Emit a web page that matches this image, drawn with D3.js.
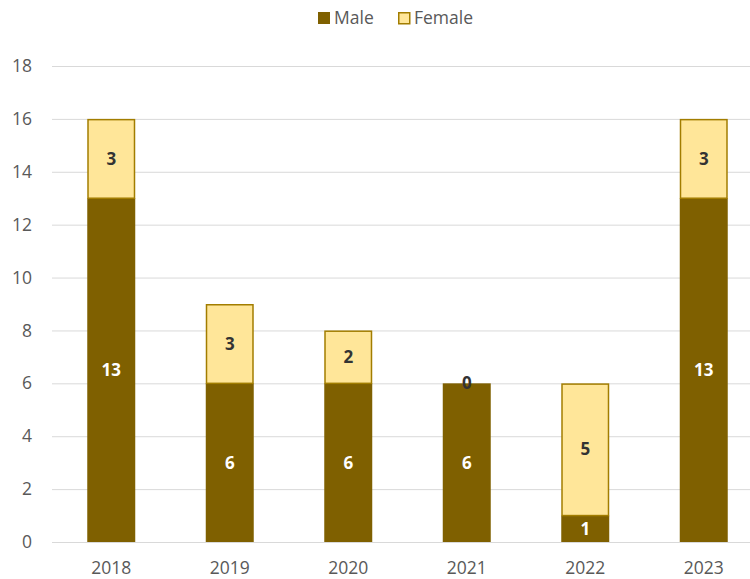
<!DOCTYPE html>
<html lang="en">
<head>
<meta charset="UTF-8">
<title>Male / Female by year</title>
<script src="https://d3js.org/d3.v7.min.js"></script>
<style>
  body { margin: 0; background: #fff; }
  svg { font-family: "Open Sans", "Noto Sans", sans-serif; }
</style>
</head>
<body>
<svg id="chart" width="750" height="579"></svg>
<script>
var years = ["2018", "2019", "2020", "2021", "2022", "2023"];
var male = [13, 6, 6, 6, 1, 13];
var female = [3, 3, 2, 0, 5, 3];
var yTicks = [0, 2, 4, 6, 8, 10, 12, 14, 16, 18];

var svg = d3.select("#chart");
var fontSize = "17.5px";

// plot area (note: "top" is a reserved window global, so use plotTop)
var plotLeft = 52, plotRight = 763, plotTop = 66, plotBottom = 542;

var x = d3.scaleBand().domain(years).range([plotLeft, plotRight]).paddingInner(0.595).paddingOuter(0.2975);
var y = d3.scaleLinear().domain([0, 18]).range([plotBottom, plotTop]);

// gridlines
svg.append("g")
  .selectAll("line")
  .data(yTicks)
  .enter()
  .append("line")
  .attr("x1", plotLeft)
  .attr("x2", 750)
  .attr("y1", function(d) { return y(d) + 0.5; })
  .attr("y2", function(d) { return y(d) + 0.5; })
  .attr("stroke", "#d9d9d9")
  .attr("stroke-width", 1);

// y axis labels
var yAxis = svg.append("g")
  .attr("transform", "translate(32,0)")
  .call(d3.axisLeft(y).tickValues(yTicks).tickSize(0).tickPadding(0));
yAxis.select(".domain").remove();
yAxis.selectAll("text")
  .attr("fill", "#595959")
  .attr("font-size", fontSize)
  .attr("font-family", "\"Open Sans\", \"Noto Sans\", sans-serif");

// x axis labels
var xAxis = svg.append("g")
  .attr("transform", "translate(0," + plotBottom + ")")
  .call(d3.axisBottom(x).tickSize(0).tickPadding(20));
xAxis.select(".domain").remove();
xAxis.selectAll("text")
  .attr("fill", "#595959")
  .attr("font-size", fontSize)
  .attr("font-family", "\"Open Sans\", \"Noto Sans\", sans-serif");

var data = years.map(function(yr, i) {
  return { year: yr, male: male[i], female: female[i] };
});

// male bars
svg.selectAll(".male")
  .data(data)
  .enter()
  .append("rect")
  .attr("class", "male")
  .attr("x", function(d) { return x(d.year); })
  .attr("y", function(d) { return y(d.male); })
  .attr("width", x.bandwidth())
  .attr("height", function(d) { return y(0) - y(d.male); })
  .attr("fill", "#7f6000");

// female bars
svg.selectAll(".female")
  .data(data.filter(function(d) { return d.female > 0; }))
  .enter()
  .append("rect")
  .attr("class", "female")
  .attr("x", function(d) { return x(d.year) + 0.75; })
  .attr("y", function(d) { return y(d.male + d.female) + 0.75; })
  .attr("width", x.bandwidth() - 1.5)
  .attr("height", function(d) { return y(d.male) - y(d.male + d.female) - 0.75; })
  .attr("fill", "#ffe699")
  .attr("stroke", "#a27d00")
  .attr("stroke-width", 1.5);

// labels
svg.selectAll(".mlabel")
  .data(data)
  .enter()
  .append("text")
  .attr("x", function(d) { return x(d.year) + x.bandwidth() / 2; })
  .attr("y", function(d) { return y(d.male / 2); })
  .attr("dy", "0.35em")
  .attr("text-anchor", "middle")
  .attr("font-size", "17px")
  .attr("font-weight", "bold")
  .attr("fill", "#ffffff")
  .text(function(d) { return d.male; });

svg.selectAll(".flabel")
  .data(data)
  .enter()
  .append("text")
  .attr("x", function(d) { return x(d.year) + x.bandwidth() / 2; })
  .attr("y", function(d) { return y(d.male + d.female / 2); })
  .attr("dy", "0.35em")
  .attr("text-anchor", "middle")
  .attr("font-size", "17px")
  .attr("font-weight", "bold")
  .attr("fill", "#333333")
  .text(function(d) { return d.female; });

// legend
var legend = svg.append("g");
legend.append("rect")
  .attr("x", 318).attr("y", 12).attr("width", 12).attr("height", 12)
  .attr("fill", "#7f6000");
legend.append("text")
  .attr("x", 334).attr("y", 18).attr("dy", "0.35em")
  .attr("font-size", fontSize).attr("fill", "#595959")
  .text("Male");
legend.append("rect")
  .attr("x", 398.75).attr("y", 12.75).attr("width", 11).attr("height", 11)
  .attr("fill", "#ffe699").attr("stroke", "#a27d00").attr("stroke-width", 1.5);
legend.append("text")
  .attr("x", 414).attr("y", 18).attr("dy", "0.35em")
  .attr("font-size", fontSize).attr("fill", "#595959")
  .text("Female");
</script>
</body>
</html>
